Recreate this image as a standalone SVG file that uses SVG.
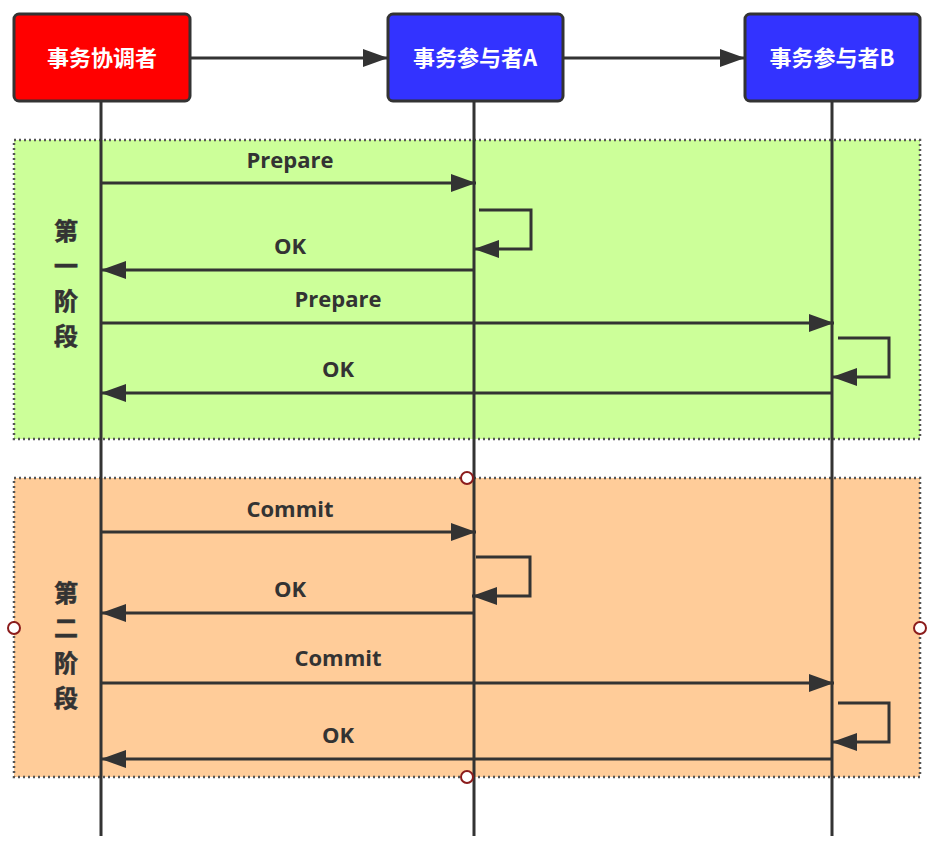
<svg xmlns="http://www.w3.org/2000/svg" width="945" height="856" viewBox="0 0 945 856">
<style>
.phase{stroke:#555;stroke-width:2.5;stroke-dasharray:2 3}
.box{stroke:#333;stroke-width:3}
.ln{stroke:#333;stroke-width:3;fill:none}
.life{stroke:#333;stroke-width:3}
.msg{font-family:"Open Sans","Liberation Sans","Noto Sans CJK SC",sans-serif;font-weight:bold;font-size:22px;fill:#333;text-anchor:middle}
.lbl{font-family:"Noto Sans CJK SC","Noto Sans",sans-serif;font-weight:bold;font-size:22px;fill:#fff;text-anchor:middle}
.ph{font-family:"Noto Sans CJK SC",sans-serif;font-weight:bold;font-size:24px;fill:#333;stroke:#333;stroke-width:0.6;text-anchor:middle}
.handle{fill:#fff;stroke:#8b1c1c;stroke-width:2}
</style>
<defs>
<marker id="ah" markerUnits="userSpaceOnUse" markerWidth="26" markerHeight="18" refX="25" refY="9" orient="auto">
<path d="M0,0 L25,9 L0,18 Z" fill="#333"/>
</marker>
</defs>
<rect width="945" height="856" fill="#fff"/>
<g id="phase1">
<rect class="phase" x="14" y="140" width="906" height="299" fill="#ccff99"/>
<text class="ph" x="66" y="240">第</text>
<text class="ph" x="66" y="275">一</text>
<text class="ph" x="66" y="310">阶</text>
<text class="ph" x="66" y="345">段</text>
</g>
<g id="phase2">
<rect class="phase" x="14" y="478" width="906" height="299" fill="#ffcc99"/>
<text class="ph" x="66" y="602">第</text>
<text class="ph" x="66" y="637">二</text>
<text class="ph" x="66" y="672">阶</text>
<text class="ph" x="66" y="707">段</text>
</g>
<g id="lifelines">
<line class="life" x1="101" y1="101" x2="101" y2="836"/>
<line class="life" x1="474" y1="101" x2="474" y2="836"/>
<line class="life" x1="832" y1="101" x2="832" y2="836"/>
</g>
<g id="connectors">
<line class="ln" x1="190" y1="58" x2="388" y2="58" marker-end="url(#ah)"/>
<line class="ln" x1="563" y1="58" x2="745" y2="58" marker-end="url(#ah)"/>
<line class="ln" x1="101" y1="183" x2="476" y2="183" marker-end="url(#ah)"/>
<path class="ln" d="M479,210 H531 V249 H474" marker-end="url(#ah)"/>
<line class="ln" x1="474" y1="270" x2="101" y2="270" marker-end="url(#ah)"/>
<line class="ln" x1="101" y1="323" x2="834" y2="323" marker-end="url(#ah)"/>
<path class="ln" d="M838,338 H889 V377 H832" marker-end="url(#ah)"/>
<line class="ln" x1="832" y1="393" x2="101" y2="393" marker-end="url(#ah)"/>
<line class="ln" x1="101" y1="532" x2="476" y2="532" marker-end="url(#ah)"/>
<path class="ln" d="M476,557 H530 V596 H472" marker-end="url(#ah)"/>
<line class="ln" x1="474" y1="613" x2="101" y2="613" marker-end="url(#ah)"/>
<line class="ln" x1="101" y1="683" x2="834" y2="683" marker-end="url(#ah)"/>
<path class="ln" d="M838,703 H889 V742 H832" marker-end="url(#ah)"/>
<line class="ln" x1="832" y1="759" x2="101" y2="759" marker-end="url(#ah)"/>
<text class="msg" x="290" y="168">Prepare</text>
<text class="msg" x="290" y="254">OK</text>
<text class="msg" x="338" y="307">Prepare</text>
<text class="msg" x="338" y="377">OK</text>
<text class="msg" x="290" y="517">Commit</text>
<text class="msg" x="290" y="597">OK</text>
<text class="msg" x="338" y="666">Commit</text>
<text class="msg" x="338" y="743">OK</text>
</g>
<g id="coordinator">
<rect class="box" x="14" y="14" width="176" height="87" rx="5" fill="#ff0000"/>
<text class="lbl" x="102" y="66">事务协调者</text>
</g>
<g id="participantA">
<rect class="box" x="388" y="14" width="175" height="87" rx="5" fill="#3333ff"/>
<text class="lbl" x="475" y="66">事务参与者A</text>
</g>
<g id="participantB">
<rect class="box" x="745" y="14" width="175" height="87" rx="5" fill="#3333ff"/>
<text class="lbl" x="832" y="66">事务参与者B</text>
</g>
<g id="handles">
<circle class="handle" cx="467" cy="478" r="6"/>
<circle class="handle" cx="14" cy="628" r="6"/>
<circle class="handle" cx="920" cy="628" r="6"/>
<circle class="handle" cx="467" cy="777" r="6"/>
</g>
</svg>
